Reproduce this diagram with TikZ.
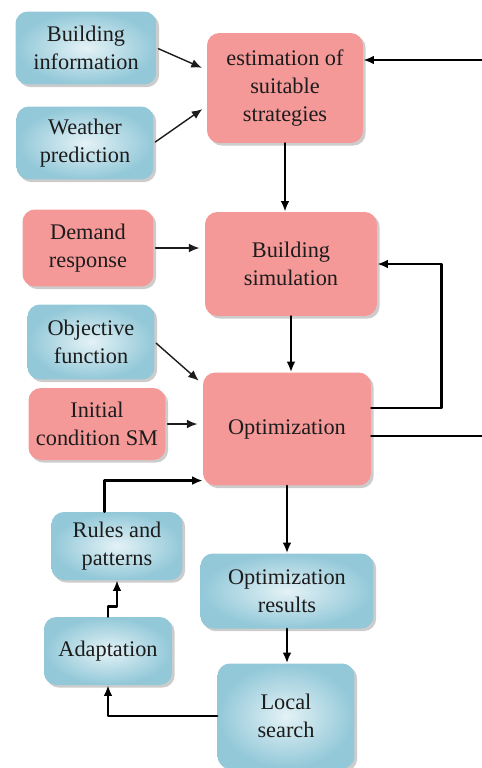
\documentclass[tikz,border=0pt]{standalone}
\usepackage{fontspec}
\setmainfont{Liberation Serif}
\usetikzlibrary{arrows.meta,shadows}

\definecolor{blueEdge}{HTML}{92C8D8}
\definecolor{blueMid}{HTML}{E4F2F6}
\definecolor{pinkFill}{HTML}{F59898}
\definecolor{inkDark}{HTML}{1C1C1C}

\begin{document}
\begin{tikzpicture}[x=0.02cm, y=-0.02cm, line cap=round, line join=round,
    box/.style={rectangle, rounded corners=7pt, align=center, text=inkDark,
      font=\fontsize{12.7}{15.8}\selectfont, inner sep=2pt,
      drop shadow={shadow xshift=1.5pt, shadow yshift=-1.5pt, opacity=0.4}},
    bluebox/.style={box, inner color=blueMid, outer color=blueEdge},
    pinkbox/.style={box, fill=pinkFill},
    flow/.style={-{Latex[length=6pt,width=5pt]}, line width=1.5pt, black},
    feed/.style={-{Latex[length=6pt,width=5pt]}, line width=0.8pt, inkDark,
      shorten <=1pt, shorten >=3pt}]

    % page frame (pixels of the original)
    \useasboundingbox (0,0) rectangle (482,768);

    % inputs, left column
    \node[bluebox, minimum width=2.82cm, minimum height=1.46cm] (Info) at (86,48) {Building\\information};
    \node[bluebox, minimum width=2.74cm, minimum height=1.46cm] (Weather) at (85,143) {Weather\\prediction};
    \node[pinkbox, minimum width=2.62cm, minimum height=1.54cm] (Demand) at (88,248) {Demand\\response};
    \node[bluebox, minimum width=2.54cm, minimum height=1.50cm] (Objective) at (91,342) {Objective\\function};
    \node[pinkbox, minimum width=2.74cm, minimum height=1.44cm] (Initial) at (97,424) {Initial\\condition SM};
    \node[bluebox, minimum width=2.62cm, minimum height=1.36cm] (Rules) at (117,546) {Rules and\\patterns};
    \node[bluebox, minimum width=2.56cm, minimum height=1.36cm] (Adapt) at (108,651) {Adaptation};

    % main column
    \node[pinkbox, minimum width=3.12cm, minimum height=2.20cm] (Estim) at (285,88) {estimation of\\suitable\\strategies};
    \node[pinkbox, minimum width=3.44cm, minimum height=2.08cm] (BSim) at (291,264) {Building\\simulation};
    \node[pinkbox, minimum width=3.36cm, minimum height=2.26cm] (Optim) at (287,429) {Optimization};
    \node[bluebox, minimum width=3.46cm, minimum height=1.50cm] (Results) at (287,591) {Optimization\\results};
    \node[bluebox, minimum width=2.74cm, minimum height=2.10cm] (Local) at (286,716) {Local\\search};

    % free ends at the right border
    \coordinate (TopR) at (482,60);
    \coordinate (OutR) at (482,436);

    % side inputs
    \draw[feed] (Info.east) -- (Estim.167);
    \draw[feed] (Weather.east) -- (Estim.193);
    \draw[feed] (Demand.east) -- (Demand.east -| BSim.west);
    \draw[feed] (Objective.east) -- (Optim.152);
    \draw[feed] (Initial.east) -- (Initial.east -| Optim.west);

    % main flow
    \draw[flow] (TopR) -- (TopR -| Estim.east);
    \draw[flow] (Estim.south) -- (Estim.south |- BSim.north);
    \draw[flow] (BSim.south) -- (BSim.south |- Optim.north);
    \draw[flow] ([yshift=12pt]Optim.east) -- ++(70,0) |- (BSim.east);
    \draw[flow, -] (OutR -| Optim.east) -- (OutR);
    \draw[flow] (Optim.south) -- (Optim.south |- Results.north);
    \draw[flow] (Results.south) -- (Results.south |- Local.north);

    % local search loop
    \draw[flow] (Local.west) -| (Adapt.south);
    \draw[flow] (Adapt.north) -- ++(0,-10) -| (Rules.south);
    \draw[flow] ([xshift=-7pt]Rules.north) |- ([yshift=3pt]Optim.south west);

\end{tikzpicture}
\end{document}
